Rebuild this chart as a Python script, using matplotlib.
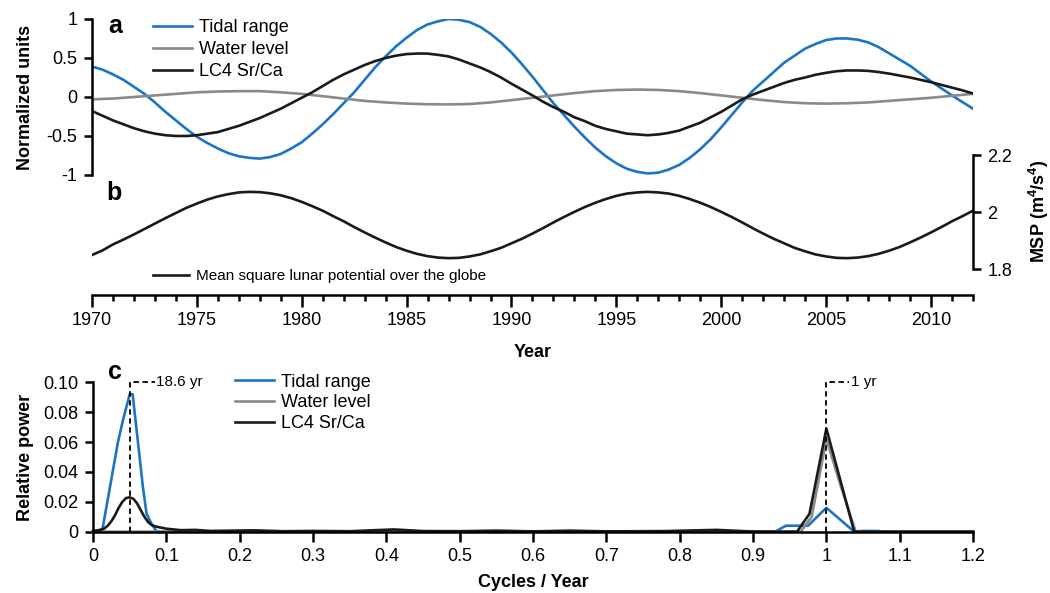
import numpy as np
import matplotlib
matplotlib.use('Agg')
import matplotlib.pyplot as plt
from matplotlib.ticker import MultipleLocator

plt.rcParams['font.family'] = ['Liberation Sans', 'DejaVu Sans']
plt.rcParams['axes.unicode_minus'] = False
plt.rcParams['mathtext.fontset'] = 'custom'
plt.rcParams['mathtext.rm'] = 'Liberation Sans'
plt.rcParams['mathtext.bf'] = 'Liberation Sans:bold'

BLUE = '#1b75c2'
GRAY = '#8a8a8a'
BLACK = '#1a1a1a'

# panel a / b : values read every half year (water level every year)
half_years = np.arange(1970, 2012.01, 0.5)
years = np.arange(1970, 2013)
tidal = [0.39, 0.35, 0.29, 0.22, 0.13, 0.04, -0.07, -0.19, -0.30, -0.41,
         -0.51, -0.59, -0.66, -0.72, -0.76, -0.78, -0.79, -0.77, -0.73, -0.66,
         -0.58, -0.47, -0.35, -0.22, -0.08, 0.06, 0.22, 0.38, 0.52, 0.65,
         0.76, 0.86, 0.93, 0.97, 1.00, 0.99, 0.96, 0.90, 0.81, 0.70,
         0.57, 0.42, 0.26, 0.09, -0.08, -0.23, -0.38, -0.52, -0.65, -0.76,
         -0.85, -0.92, -0.96, -0.98, -0.97, -0.93, -0.87, -0.78, -0.67, -0.54,
         -0.39, -0.23, -0.07, 0.08, 0.20, 0.32, 0.44, 0.53, 0.62, 0.68,
         0.73, 0.75, 0.75, 0.735, 0.70, 0.64, 0.56, 0.48, 0.40, 0.30,
         0.20, 0.11, 0.02, -0.065, -0.15]
water = [-0.03, -0.02, 0.00, 0.02, 0.04, 0.06, 0.07, 0.075, 0.075, 0.06,
         0.04, 0.01, -0.02, -0.05, -0.07, -0.085, -0.093, -0.095, -0.09, -0.07,
         -0.04, -0.01, 0.02, 0.05, 0.075, 0.09, 0.095, 0.09, 0.075, 0.05,
         0.02, -0.01, -0.04, -0.065, -0.08, -0.085, -0.08, -0.07, -0.05, -0.03,
         -0.01, 0.015, 0.04]
srca = [-0.18, -0.24, -0.30, -0.35, -0.40, -0.44, -0.47, -0.49, -0.50, -0.50,
        -0.49, -0.47, -0.45, -0.41, -0.37, -0.32, -0.27, -0.21, -0.15, -0.08,
        -0.01, 0.06, 0.14, 0.22, 0.29, 0.35, 0.41, 0.46, 0.50, 0.53,
        0.55, 0.557, 0.556, 0.54, 0.52, 0.48, 0.43, 0.38, 0.32, 0.25,
        0.17, 0.095, 0.02, -0.06, -0.13, -0.19, -0.26, -0.31, -0.37, -0.41,
        -0.44, -0.47, -0.48, -0.49, -0.48, -0.46, -0.43, -0.38, -0.33, -0.26,
        -0.19, -0.11, -0.03, 0.03, 0.08, 0.13, 0.18, 0.22, 0.25, 0.285,
        0.31, 0.33, 0.34, 0.34, 0.335, 0.32, 0.30, 0.275, 0.25, 0.22,
        0.19, 0.155, 0.12, 0.085, 0.045]
msp = [1.850, 1.866, 1.887, 1.904, 1.922, 1.941, 1.960, 1.979, 1.997, 2.015,
       2.030, 2.044, 2.055, 2.063, 2.069, 2.071, 2.070, 2.066, 2.059, 2.049,
       2.036, 2.021, 2.005, 1.986, 1.968, 1.948, 1.929, 1.911, 1.894, 1.878,
       1.865, 1.854, 1.846, 1.841, 1.839, 1.840, 1.845, 1.852, 1.863, 1.875,
       1.891, 1.907, 1.925, 1.944, 1.964, 1.983, 2.001, 2.018, 2.033, 2.046,
       2.057, 2.065, 2.069, 2.071, 2.069, 2.065, 2.057, 2.046, 2.033, 2.018,
       2.001, 1.983, 1.964, 1.944, 1.925, 1.907, 1.891, 1.875, 1.863, 1.852,
       1.845, 1.840, 1.839, 1.841, 1.846, 1.854, 1.865, 1.878, 1.894, 1.911,
       1.929, 1.948, 1.968, 1.986, 2.005]

# panel c : spectra
tidal_f = [0, 0.005, 0.013, 0.034, 0.041, 0.050, 0.054, 0.059, 0.068, 0.073,
           0.080, 0.087, 0.10, 0.3, 0.6, 0.93, 0.945, 0.975, 1.0, 1.038,
           1.05, 1.07, 1.08, 1.2]
tidal_p = [0, 0, 0.002, 0.060, 0.075, 0.092, 0.092, 0.070, 0.030, 0.012,
           0.005, 0, 0, 0, 0, 0, 0.004, 0.004, 0.016, 0,
           0.0005, 0.0005, 0, 0]
water_f = [0, 0.1, 0.5, 0.9, 0.965, 0.98, 1.0, 1.02, 1.04, 1.2]
water_p = [0, 0, 0.0003, 0, 0, 0.01, 0.062, 0.03, 0, 0]
srca_f = [0, 0.01, 0.015, 0.02, 0.025, 0.03, 0.035, 0.04, 0.045, 0.05,
          0.055, 0.06, 0.065, 0.07, 0.075, 0.08, 0.085, 0.09, 0.10, 0.12,
          0.14, 0.16, 0.22, 0.26, 0.30, 0.35, 0.41, 0.45, 0.50, 0.55,
          0.60, 0.65, 0.70, 0.78, 0.85, 0.90, 0.96, 0.977, 1.0, 1.038,
          1.2]
srca_p = [0.0005, 0.0012, 0.002, 0.004, 0.007, 0.011, 0.016, 0.020, 0.0225, 0.023,
          0.022, 0.019, 0.0145, 0.010, 0.0065, 0.0045, 0.0035, 0.003, 0.002, 0.001,
          0.0012, 0.0005, 0.0009, 0.0003, 0.0005, 0.0003, 0.0015, 0.0004, 0.0003, 0.0007,
          0.0002, 0.0007, 0.0002, 0.0004, 0.0012, 0.0001, 0.0, 0.012, 0.069, 0.0,
          0.0]

FS = 13
fig = plt.figure(figsize=(10.5, 5.93), dpi=100)

# ---- panel a
ax_a = fig.add_axes([0.0876, 0.7049, 0.839, 0.2631])
ax_a.patch.set_visible(False)
ax_a.plot(half_years, tidal, color=BLUE, lw=1.9, label='Tidal range')
ax_a.plot(years, water, color=GRAY, lw=1.9, label='Water level')
ax_a.plot(half_years, srca, color=BLACK, lw=1.9, label='LC4 Sr/Ca')
ax_a.set_xlim(1970, 2012)
ax_a.set_ylim(-1, 1)
for s in ['top', 'right', 'bottom']:
    ax_a.spines[s].set_visible(False)
ax_a.spines['left'].set_linewidth(1.8)
ax_a.set_xticks([])
ax_a.set_yticks([-1, -0.5, 0, 0.5, 1])
ax_a.set_yticklabels(['-1', '-0.5', '0', '0.5', '1'])
ax_a.tick_params(axis='y', direction='out', length=5.5, width=1.8, pad=5, labelsize=FS)
ax_a.set_ylabel('Normalized units', fontweight='bold', fontsize=FS, va='center')
ax_a.yaxis.set_label_coords(-0.076, 0.5)
ax_a.legend(loc='upper left', bbox_to_anchor=(0.069, 1.0), frameon=False, fontsize=FS,
            handlelength=2.2, handletextpad=0.35, labelspacing=0.28,
            borderpad=0, borderaxespad=0)
ax_a.text(0.026, 0.955, 'a', transform=ax_a.transAxes, fontsize=18, fontweight='bold',
          ha='center', va='center')

# ---- panel b
ax_b = fig.add_axes([0.0876, 0.5025, 0.839, 0.2361])
ax_b.patch.set_visible(False)
ax_b.plot(half_years, msp, color=BLACK, lw=1.9, label='Mean square lunar potential over the globe')
ax_b.set_xlim(1970, 2012)
ax_b.set_ylim(1.71, 2.2)
ax_b.spines['top'].set_visible(False)
ax_b.spines['left'].set_visible(False)
ax_b.spines['right'].set_bounds(1.8, 2.2)
ax_b.spines['right'].set_linewidth(1.8)
ax_b.spines['bottom'].set_linewidth(1.8)
ax_b.yaxis.tick_right()
ax_b.set_yticks([1.8, 2.0, 2.2])
ax_b.set_yticklabels(['1.8', '2', '2.2'])
ax_b.tick_params(axis='y', direction='out', length=5.5, width=1.8, pad=5, labelsize=FS)
ax_b.xaxis.set_major_locator(MultipleLocator(5))
ax_b.xaxis.set_minor_locator(MultipleLocator(1))
ax_b.tick_params(axis='x', which='major', direction='out', length=8.5, width=1.8, pad=4, labelsize=FS)
ax_b.tick_params(axis='x', which='minor', direction='out', length=4.3, width=1.8)
ax_b.yaxis.set_label_position('right')
ax_b.set_ylabel(r'MSP (m$^{\mathbf{4}}$/s$^{\mathbf{4}}$)', fontweight='bold', fontsize=FS,
                va='center', rotation=90)
ax_b.yaxis.set_label_coords(1.075, 0.6)
ax_b.set_xlabel('Year', fontweight='bold', fontsize=FS, va='center')
ax_b.xaxis.set_label_coords(0.5, -0.407)
ax_b.legend(loc='upper left', bbox_to_anchor=(0.069, 0.186), frameon=False, fontsize=11,
            handlelength=2.4, handletextpad=0.45, borderpad=0, borderaxespad=0)
ax_b.text(0.025, 0.73, 'b', transform=ax_b.transAxes, fontsize=18, fontweight='bold',
          ha='center', va='center')

# ---- panel c
ax_c = fig.add_axes([0.0886, 0.1034, 0.8381, 0.2519])
ax_c.plot(tidal_f, tidal_p, color=BLUE, lw=1.9, label='Tidal range', clip_on=False)
ax_c.plot(water_f, water_p, color=GRAY, lw=1.9, label='Water level', clip_on=False)
ax_c.plot(srca_f, srca_p, color=BLACK, lw=1.9, label='LC4 Sr/Ca', clip_on=False)
ax_c.set_xlim(0, 1.2)
ax_c.set_ylim(0, 0.10)
ax_c.spines['top'].set_visible(False)
ax_c.spines['right'].set_visible(False)
ax_c.spines['left'].set_linewidth(1.8)
ax_c.spines['bottom'].set_linewidth(1.8)
xt = np.round(np.arange(0, 1.21, 0.1), 1)
ax_c.set_xticks(xt)
ax_c.set_xticklabels(['0' if v == 0 else ('1' if v == 1 else f'{v:g}') for v in xt])
ax_c.set_yticks([0, 0.02, 0.04, 0.06, 0.08, 0.10])
ax_c.set_yticklabels(['0', '0.02', '0.04', '0.06', '0.08', '0.10'])
ax_c.tick_params(axis='x', direction='out', length=7.5, width=1.8, pad=4, labelsize=FS)
ax_c.tick_params(axis='y', direction='out', length=5.5, width=1.8, pad=5, labelsize=FS)
ax_c.set_ylabel('Relative power', fontweight='bold', fontsize=FS, va='center')
ax_c.yaxis.set_label_coords(-0.077, 0.5)
ax_c.set_xlabel('Cycles / Year', fontweight='bold', fontsize=FS, va='center')
ax_c.xaxis.set_label_coords(0.5, -0.343)
ax_c.legend(loc='upper left', bbox_to_anchor=(0.161, 1.057), frameon=False, fontsize=FS,
            handlelength=2.2, handletextpad=0.35, labelspacing=0.2,
            borderpad=0, borderaxespad=0)
ax_c.text(0.025, 1.07, 'c', transform=ax_c.transAxes, fontsize=18, fontweight='bold',
          ha='center', va='center')

# period markers
for f0, f1, lab in [(0.05, 0.084, '18.6 yr'), (1.0, 1.031, '1 yr')]:
    ax_c.plot([f0, f0, f1], [0, 0.10, 0.10], color='black', lw=1.3, ls=(0, (3, 2)),
              clip_on=False, zorder=5)
    ax_c.text(f1 + 0.002, 0.10, lab, fontsize=11, ha='left', va='center')

fig.savefig('out.png', dpi=100)
